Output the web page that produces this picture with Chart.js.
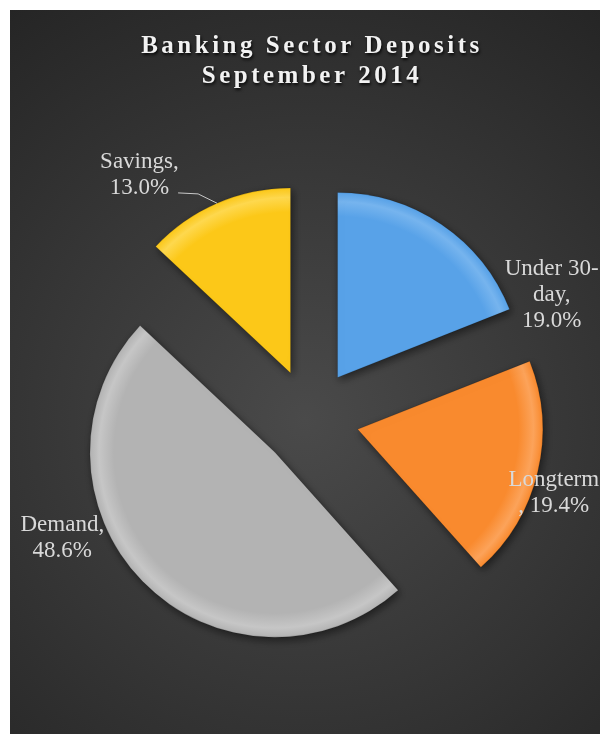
<!DOCTYPE html>
<html>
<head>
<meta charset="utf-8">
<title>Banking Sector Deposits</title>
<script src="https://cdn.jsdelivr.net/npm/chart.js@4.4.0/dist/chart.umd.min.js"></script>
<style>
  html, body { margin: 0; padding: 0; background: #fff; }
  canvas { display: block; }
</style>
</head>
<body>
<canvas id="depositsChart" width="600" height="734"></canvas>
<script>
const titleLines = ["Banking Sector Deposits", "September 2014"];
const categories = ["Under 30-day", "Longterm", "Demand", "Savings"];
const shares = [19.0, 19.4, 48.6, 13.0];
// where each data label wraps (character positions in "Name, 12.3%")
const labelBreaks = [[9, 14], [8], [8], [8]];

// slice look
const sliceColors = ["#58a2e8", "#f98a2e", "#b3b3b3", "#fcc818"];
const sliceRimColors = ["#76b4ee", "#fca35a", "#c6c6c6", "#fed84e"];
const PIE_RADIUS = 185;
const EXPLODE = 49;

// label spot for each slice: angle (deg, clockwise from 12 o'clock) and distance from the slice tip
const labelSpots = [
  { angle: 68.6, dist: 230 },
  { angle: 107.8, dist: 206 },
  { angle: 248.2, dist: 229 },
  { angle: 322.8, dist: 250 },
];
const hasLeader = [false, false, false, true];

function sliceCentre(chart, i) {
  const area = chart.chartArea;
  const total = shares.reduce((a, b) => a + b, 0);
  let before = 0;
  for (let k = 0; k < i; k++) before += shares[k];
  const mid = -Math.PI / 2 + ((before + shares[i] / 2) / total) * 2 * Math.PI;
  return {
    x: (area.left + area.right) / 2 + Math.cos(mid) * EXPLODE,
    y: (area.top + area.bottom) / 2 + Math.sin(mid) * EXPLODE,
    mid: mid,
  };
}

function labelLines(i) {
  const text = categories[i] + ", " + shares[i].toFixed(1) + "%";
  const lines = [];
  let from = 0;
  labelBreaks[i].forEach((at) => {
    lines.push(text.slice(from, at).trim());
    from = at;
  });
  lines.push(text.slice(from).trim());
  return lines;
}

// pulls every slice away from the centre
const explodePlugin = {
  id: "explode",
  afterDatasetsUpdate(chart) {
    chart.getDatasetMeta(0).data.forEach((arc, i) => {
      const c = sliceCentre(chart, i);
      arc.x = c.x;
      arc.y = c.y;
    });
  },
  beforeDatasetsDraw(chart) {
    const ctx = chart.ctx;
    ctx.save();
    ctx.shadowColor = "rgba(0, 0, 0, 0.5)";
    ctx.shadowBlur = 8;
    ctx.shadowOffsetX = 2;
    ctx.shadowOffsetY = 3;
  },
  afterDatasetsDraw(chart) {
    chart.ctx.restore();
  },
};

// dark panel, title and data labels
const panelPlugin = {
  id: "panel",
  beforeDraw(chart) {
    const ctx = chart.ctx;
    ctx.save();
    ctx.fillStyle = "#ffffff";
    ctx.fillRect(0, 0, chart.width, chart.height);
    const g = ctx.createRadialGradient(305, 420, 0, 305, 420, 520);
    g.addColorStop(0, "#4a4a4a");
    g.addColorStop(1, "#242424");
    ctx.fillStyle = g;
    ctx.fillRect(10, 10, chart.width - 10, chart.height - 10);
    ctx.restore();
  },
  afterDraw(chart) {
    const ctx = chart.ctx;
    ctx.save();

    // title
    ctx.font = "bold 25px 'Liberation Serif', serif";
    ctx.textAlign = "center";
    ctx.textBaseline = "alphabetic";
    ctx.fillStyle = "#f2f2f2";
    ctx.shadowColor = "rgba(0, 0, 0, 0.85)";
    ctx.shadowBlur = 3;
    ctx.shadowOffsetX = 1;
    ctx.shadowOffsetY = 2;
    ctx.letterSpacing = "3.5px";
    titleLines.forEach((line, k) => {
      ctx.fillText(line, 312, 53 + k * 30);
    });
    ctx.letterSpacing = "0px";
    ctx.shadowColor = "transparent";

    // data labels
    const meta = chart.getDatasetMeta(0);
    ctx.font = "23px 'Liberation Serif', serif";
    ctx.fillStyle = "#d9d9d9";
    meta.data.forEach((arc, i) => {
      const spot = labelSpots[i];
      const rad = (spot.angle * Math.PI) / 180;
      const cx = arc.x + Math.sin(rad) * spot.dist;
      const cy = arc.y - Math.cos(rad) * spot.dist;
      const lines = labelLines(i);
      const lh = 26;
      const first = cy + 7 - ((lines.length - 1) * lh) / 2;
      lines.forEach((line, k) => {
        ctx.fillText(line, cx, first + k * lh);
      });

      if (hasLeader[i]) {
        const last = lines[lines.length - 1];
        const sx = cx + ctx.measureText(last).width / 2 + 9;
        const sy = first + (lines.length - 1) * lh - 1;
        const mid = (arc.startAngle + arc.endAngle) / 2;
        const ex = arc.x + Math.cos(mid) * arc.outerRadius;
        const ey = arc.y + Math.sin(mid) * arc.outerRadius;
        ctx.strokeStyle = "#c8c8c8";
        ctx.lineWidth = 1;
        ctx.beginPath();
        ctx.moveTo(sx, sy);
        ctx.lineTo(sx + 20, sy + 1);
        ctx.lineTo(ex, ey);
        ctx.stroke();
      }
    });
    ctx.restore();
  },
};

const chart = new Chart(document.getElementById("depositsChart"), {
  type: "pie",
  data: {
    labels: categories,
    datasets: [
      {
        data: shares,
        backgroundColor: function (context) {
          const i = context.dataIndex;
          const chart = context.chart;
          if (context.type !== "data" || !chart.chartArea) return sliceColors[i] || "#999";
          const c = sliceCentre(chart, i);
          const g = chart.ctx.createRadialGradient(c.x, c.y, 0, c.x, c.y, PIE_RADIUS);
          g.addColorStop(0, sliceColors[i]);
          g.addColorStop(0.87, sliceColors[i]);
          g.addColorStop(0.95, sliceRimColors[i]);
          g.addColorStop(1, sliceColors[i]);
          return g;
        },
        borderColor: "rgba(0, 0, 0, 0.15)",
        borderWidth: 1,
      },
    ],
  },
  options: {
    responsive: false,
    animation: false,
    events: [],
    radius: PIE_RADIUS,
    layout: {
      padding: { left: 20, right: 0, top: 110, bottom: 8 },
    },
    plugins: {
      legend: { display: false },
      tooltip: { enabled: false },
      title: { display: false },
    },
  },
  plugins: [panelPlugin, explodePlugin],
});
</script>
</body>
</html>
